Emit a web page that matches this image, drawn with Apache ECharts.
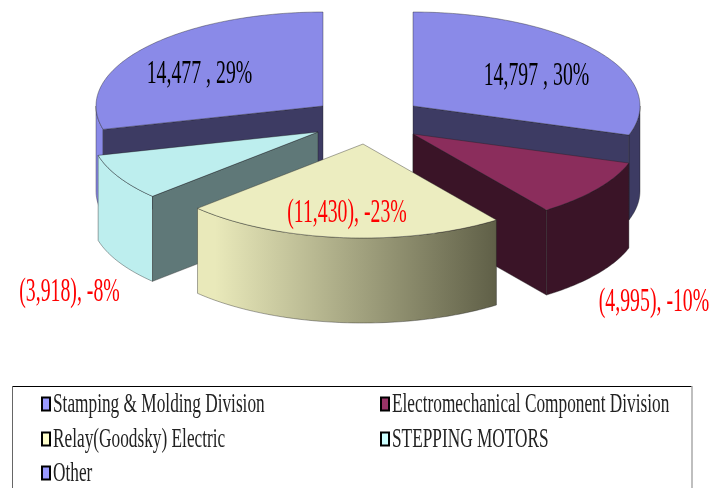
<!DOCTYPE html>
<html>
<head>
<meta charset="utf-8">
<style>html,body{margin:0;padding:0;background:#fff}#c{width:715px;height:488px}</style>
<script src="https://cdn.jsdelivr.net/npm/echarts@6/dist/echarts.min.js"></script>
</head>
<body>
<div id="c"></div>
<script>
// ---- data ----
const names = ['Stamping & Molding Division','Electromechanical Component Division','Relay(Goodsky) Electric','STEPPING MOTORS','Other'];
const amounts = [14797, -4995, -11430, -3918, 14477];
const shares = [30, -10, -23, -8, 29];

// ---- styling / layout (not data) ----
const topColors = ['#8a8ae8','#8b2d5c','#ecedc0','#bdeeee','#8a8ae8'];
const wallLit = ['#8a8ae8','#8b2d5c','#e9e9ba','#bdeeee','#8a8ae8'];
const wallDark = ['#3d3b63','#3a1427','#5f5f47','#5f7878','#3d3b63'];
const legendColors = ['#9999ff','#993366','#ffffcc','#ccffff','#9999ff'];
const apexes = [[413,106],[413,134],[363,144],[318,132],[323,106]];
const drawOrder = [0,4,1,3,2];
const labelPos = [[536.5,76],[654,302],[347,213],[69.5,292],[199.5,74]];
const labelColors = ['#000','#f00','#f00','#f00','#000'];
const RX = 227, RY = 94, DEPTH = 85;
const legendPos = [[41,404],[380,404],[41,439],[380,439],[41,473]];

const fmt = n => Math.abs(n).toLocaleString('en-US');
const labelText = i => amounts[i] >= 0
  ? fmt(amounts[i]) + ' , ' + shares[i] + '%'
  : '(' + fmt(amounts[i]) + '), ' + shares[i] + '%';

const total = shares.reduce((s, v) => s + Math.abs(v), 0);
const edge = {stroke:'rgba(30,30,30,0.55)', lineWidth:0.7};

function renderSlice(params, api) {
  const i = params.dataIndex;
  let before = 0;
  for (let k = 0; k < i; k++) before += Math.abs(shares[k]);
  const a0 = before / total * 360;
  const a1 = a0 + api.value(0) / total * 360;
  const [cx, cy] = apexes[i];
  const pt = (deg, dy) => {
    const r = deg * Math.PI / 180;
    return [cx + RX * Math.sin(r), cy - RY * Math.cos(r) + (dy || 0)];
  };
  const arc = [];
  const n = Math.ceil(a1 - a0);
  for (let k = 0; k <= n; k++) arc.push(pt(a0 + (a1 - a0) * k / n));
  const order = drawOrder.indexOf(i) * 10;
  const children = [];
  const poly = (points, fill, z) => children.push({
    type:'polygon', z2:order + z, shape:{points},
    style:Object.assign({fill}, edge), silent:true
  });
  // outer wall (front half of the rim only)
  const wa0 = Math.max(a0, 90), wa1 = Math.min(a1, 270);
  if (wa1 > wa0) {
    const m = Math.ceil(wa1 - wa0), up = [], dn = [];
    for (let k = 0; k <= m; k++) {
      const d = wa0 + (wa1 - wa0) * k / m;
      up.push(pt(d)); dn.unshift(pt(d, DEPTH));
    }
    poly(up.concat(dn), {
      type:'linear', global:true, x:215, y:0, x2:497, y2:0,
      colorStops:[{offset:0,color:wallLit[i]},{offset:1,color:wallDark[i]}]
    }, 1);
  }
  // cut faces
  const face = d => {
    const e = pt(d);
    poly([[cx,cy],e,[e[0],e[1]+DEPTH],[cx,cy+DEPTH]], wallDark[i], 2);
  };
  if (Math.sin(a0 * Math.PI / 180) < -1e-6) face(a0);
  if (Math.sin(a1 * Math.PI / 180) > 1e-6) face(a1);
  // top face
  poly([[cx,cy]].concat(arc), topColors[i], 3);
  return {type:'group', children};
}

function renderLabel(params) {
  const i = params.dataIndex;
  return {
    type:'text', x:labelPos[i][0], y:labelPos[i][1], scaleX:0.6, z2:100, silent:true,
    style:{text:labelText(i), fill:labelColors[i], font:'33px "Liberation Serif"',
      textAlign:'center', textVerticalAlign:'middle'}
  };
}

function renderLegend(params) {
  const i = params.dataIndex;
  const [x, y] = legendPos[i];
  return {type:'group', children:[
    {type:'rect', shape:{x:x+1, y:y-6.5, width:8, height:13}, silent:true,
      style:{fill:legendColors[i], stroke:'#000', lineWidth:2}},
    {type:'text', x:x+12, y:y+0.5, scaleX:0.64, silent:true,
      style:{text:names[i], fill:'#222', font:'27px "Liberation Serif"',
        textAlign:'left', textVerticalAlign:'middle'}}
  ]};
}

const chart = echarts.init(document.getElementById('c'), null, {renderer:'canvas'});
chart.setOption({
  animation:false,
  backgroundColor:'#ffffff',
  graphic:[
    {type:'line', shape:{x1:12,y1:386.5,x2:692,y2:386.5}, style:{stroke:'#000',lineWidth:1}},
    {type:'line', shape:{x1:12.5,y1:386,x2:12.5,y2:488}, style:{stroke:'#666',lineWidth:1}},
    {type:'line', shape:{x1:692,y1:386,x2:692,y2:488}, style:{stroke:'#aaa',lineWidth:1.5}}
  ],
  series:[
    {type:'custom', coordinateSystem:'none', data:shares.map(v=>[Math.abs(v)]), renderItem:renderSlice, z:2, silent:true},
    {type:'custom', coordinateSystem:'none', data:amounts.map(v=>[v]), renderItem:renderLabel, z:3, silent:true},
    {type:'custom', coordinateSystem:'none', data:names.map(v=>[v]), renderItem:renderLegend, z:3, silent:true}
  ]
});
</script>
</body>
</html>
